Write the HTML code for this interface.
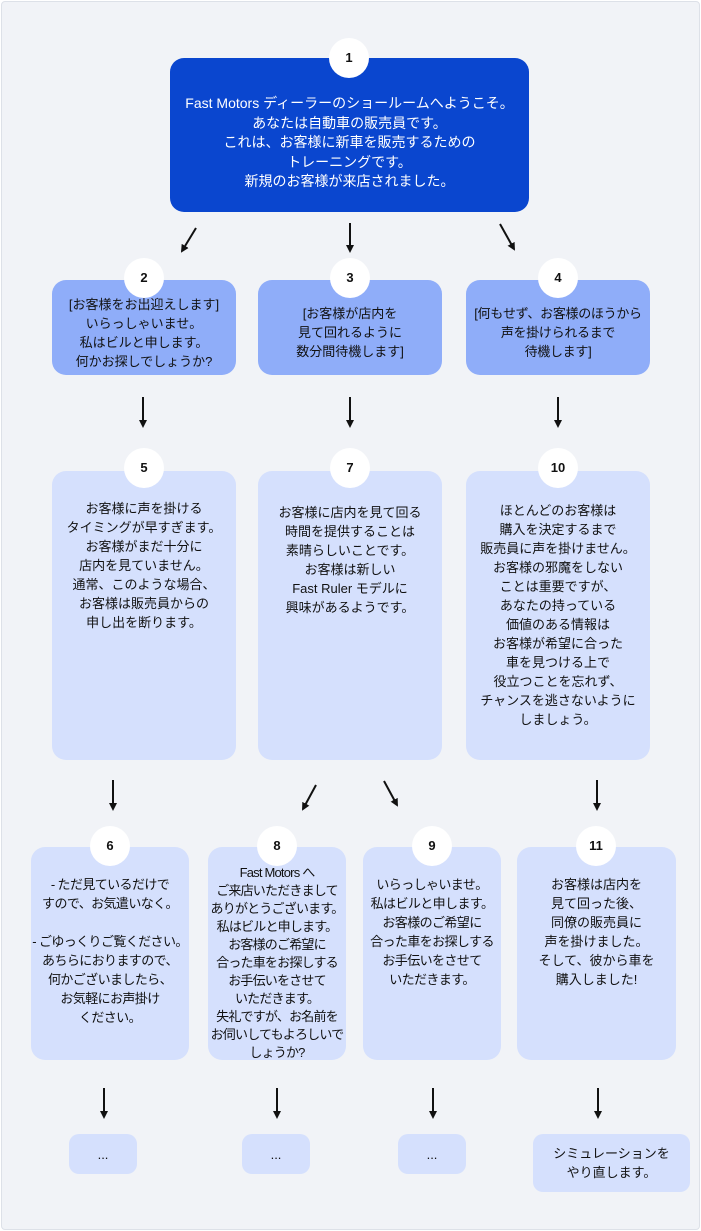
<!DOCTYPE html>
<html><head><meta charset="utf-8"><style>
body{margin:0;width:701px;height:1231px;background:#fff;font-family:"Liberation Sans","Noto Sans CJK JP",sans-serif;}
#f{position:absolute;left:1px;top:1px;width:697px;height:1227px;background:#f1f3f7;border:1px solid #dde1e8;border-radius:4px;}
.b{position:absolute;border-radius:14px;box-sizing:border-box;text-align:center;font-size:13px;line-height:19px;color:#111;display:flex;flex-direction:column;align-items:center;white-space:nowrap;}
.c{justify-content:center}
.t{justify-content:flex-start}
.n{position:absolute;width:40px;height:40px;border-radius:50%;background:#fff;font-weight:bold;font-size:13px;line-height:40px;text-align:center;color:#111;}
.d{background:#0a46cf;color:#fff;}
.m{background:#8fadf9;}
.l{background:#d5e0fd;}
</style></head><body>
<div id="f"></div>
<svg width="701" height="1231" style="position:absolute;left:0;top:0">
<defs><marker id="a" markerWidth="8" markerHeight="8" refX="6" refY="4" orient="auto" markerUnits="userSpaceOnUse"><path d="M0,0 L8,4 L0,8 Z" fill="#111"/></marker></defs>
<g stroke="#111" stroke-width="2" marker-end="url(#a)">
<line x1="196" y1="228" x2="182" y2="251"/>
<line x1="350" y1="223" x2="350" y2="251"/>
<line x1="500" y1="224" x2="514" y2="249"/>
<line x1="143" y1="397" x2="143" y2="426"/>
<line x1="350" y1="397" x2="350" y2="426"/>
<line x1="558" y1="397" x2="558" y2="426"/>
<line x1="113" y1="780" x2="113" y2="809"/>
<line x1="316" y1="785" x2="303" y2="809"/>
<line x1="384" y1="781" x2="397" y2="805"/>
<line x1="597" y1="780" x2="597" y2="809"/>
<line x1="104" y1="1088" x2="104" y2="1117"/>
<line x1="277" y1="1088" x2="277" y2="1117"/>
<line x1="433" y1="1088" x2="433" y2="1117"/>
<line x1="598" y1="1088" x2="598" y2="1117"/>
</g></svg>

<div class="b d c" style="left:170px;top:58px;width:359px;height:154px;padding-top:16px;font-size:14px;line-height:19.5px">Fast Motors ディーラーのショールームへようこそ。<br>あなたは自動車の販売員です。<br>これは、お客様に新車を販売するための<br>トレーニングです。<br>新規のお客様が来店されました。</div>
<div class="n" style="left:329px;top:38px">1</div>

<div class="b m c" style="left:52px;top:280px;width:184px;height:95px;padding-top:10px">[お客様をお出迎えします]<br>いらっしゃいませ。<br>私はビルと申します。<br>何かお探しでしょうか?</div>
<div class="n" style="left:124px;top:258px">2</div>
<div class="b m c" style="left:258px;top:280px;width:184px;height:95px;padding-top:10px">[お客様が店内を<br>見て回れるように<br>数分間待機します]</div>
<div class="n" style="left:330px;top:258px">3</div>
<div class="b m c" style="left:466px;top:280px;width:184px;height:95px;padding-top:10px;letter-spacing:-0.3px">[何もせず、お客様のほうから<br>声を掛けられるまで<br>待機します]</div>
<div class="n" style="left:538px;top:258px">4</div>

<div class="b l t" style="left:52px;top:471px;width:184px;height:289px;padding-top:28px">お客様に声を掛ける<br>タイミングが早すぎます。<br>お客様がまだ十分に<br>店内を見ていません。<br>通常、このような場合、<br>お客様は販売員からの<br>申し出を断ります。</div>
<div class="n" style="left:124px;top:448px">5</div>
<div class="b l t" style="left:258px;top:471px;width:184px;height:289px;padding-top:32px">お客様に店内を見て回る<br>時間を提供することは<br>素晴らしいことです。<br>お客様は新しい<br>Fast Ruler モデルに<br>興味があるようです。</div>
<div class="n" style="left:330px;top:448px">7</div>
<div class="b l t" style="left:466px;top:471px;width:184px;height:289px;padding-top:30px">ほとんどのお客様は<br>購入を決定するまで<br>販売員に声を掛けません。<br>お客様の邪魔をしない<br>ことは重要ですが、<br>あなたの持っている<br>価値のある情報は<br>お客様が希望に合った<br>車を見つける上で<br>役立つことを忘れず、<br>チャンスを逃さないように<br>しましょう。</div>
<div class="n" style="left:538px;top:448px">10</div>

<div class="b l t" style="left:31px;top:847px;width:158px;height:213px;padding-top:28px;letter-spacing:-0.6px">- ただ見ているだけで<br>すので、お気遣いなく。<br><br>- ごゆっくりご覧ください。<br>あちらにおりますので、<br>何かございましたら、<br>お気軽にお声掛け<br>ください。</div>
<div class="n" style="left:90px;top:826px">6</div>
<div class="b l t" style="left:208px;top:847px;width:138px;height:213px;padding-top:17px;letter-spacing:-0.8px;line-height:18px">Fast Motors へ<br>ご来店いただきまして<br>ありがとうございます。<br>私はビルと申します。<br>お客様のご希望に<br>合った車をお探しする<br>お手伝いをさせて<br>いただきます。<br>失礼ですが、お名前を<br>お伺いしてもよろしいで<br>しょうか?</div>
<div class="n" style="left:257px;top:826px">8</div>
<div class="b l t" style="left:363px;top:847px;width:138px;height:213px;padding-top:28px;letter-spacing:-0.6px">いらっしゃいませ。<br>私はビルと申します。<br>お客様のご希望に<br>合った車をお探しする<br>お手伝いをさせて<br>いただきます。</div>
<div class="n" style="left:412px;top:826px">9</div>
<div class="b l t" style="left:517px;top:847px;width:159px;height:213px;padding-top:28px">お客様は店内を<br>見て回った後、<br>同僚の販売員に<br>声を掛けました。<br>そして、彼から車を<br>購入しました!</div>
<div class="n" style="left:576px;top:826px">11</div>

<div class="b l c" style="left:69px;top:1134px;width:68px;height:40px;border-radius:10px">...</div>
<div class="b l c" style="left:242px;top:1134px;width:68px;height:40px;border-radius:10px">...</div>
<div class="b l c" style="left:398px;top:1134px;width:68px;height:40px;border-radius:10px">...</div>
<div class="b l c" style="left:533px;top:1134px;width:157px;height:58px;border-radius:10px">シミュレーションを<br>やり直します。</div>
</body></html>
